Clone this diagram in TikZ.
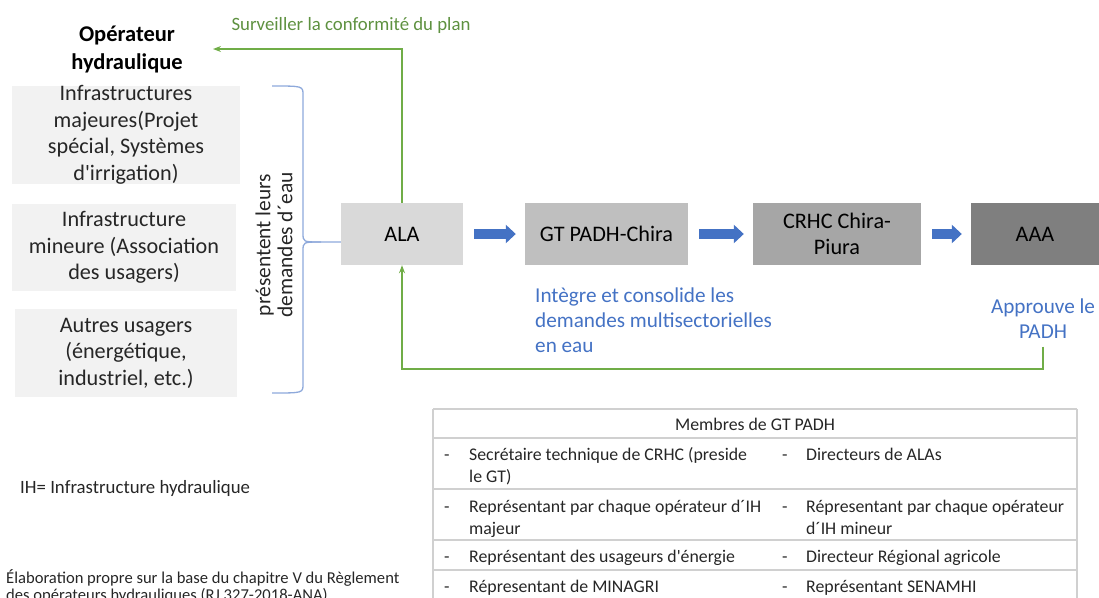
\documentclass[tikz,border=0pt]{standalone}
\usepackage{fontspec}
\setmainfont{Carlito}
\usetikzlibrary{arrows.meta, positioning, calc}
\definecolor{cpale}{HTML}{F2F2F2}
\definecolor{cala}{HTML}{D9D9D9}
\definecolor{cgt}{HTML}{BFBFBF}
\definecolor{ccrhc}{HTML}{A6A6A6}
\definecolor{caaa}{HTML}{7F7F7F}
\definecolor{cblue}{HTML}{4472C4}
\definecolor{cbrace}{HTML}{8EA9DB}
\definecolor{cgreen}{HTML}{5E9140}
\definecolor{cgline}{HTML}{70AD47}
\definecolor{crule}{HTML}{D0D0D0}
\definecolor{cink}{HTML}{262626}
\tikzset{
  every picture/.style={x=1pt, y=-1pt},
  txt/.style={font=\fontsize{22.2}{26.5}\selectfont, align=center, text=cink},
  opbox/.style={fill=cpale, inner sep=0pt, txt},
  stage/.style={fill=#1, minimum height=62pt, inner sep=0pt, txt, text=black},
  flow/.style={-{Triangle[length=10pt, width=18pt]}, draw=cblue, line width=10pt, shorten <=11pt, shorten >=9pt},
  watch/.style={-{Stealth[length=8pt, width=6pt]}, draw=cgline, line width=1.3pt},
  bracket/.style={draw=cbrace, line width=1.3pt},
  role/.style={font=\fontsize{21.2}{25}\selectfont, text=cblue},
  cell/.style={font=\fontsize{17.8}{22}\selectfont, anchor=base west, align=left, inner sep=0pt, text=cink},
  tabrule/.style={draw=crule, line width=1.3pt},
  foot/.style={font=\fontsize{16.6}{17}\selectfont, anchor=base west, align=left, inner sep=0pt, text=cink},
}
\begin{document}
\begin{tikzpicture}
  \useasboundingbox (0,0) rectangle (1099,597);
  % operators on the left
  \node[txt, font=\fontsize{22.5}{28}\selectfont\bfseries, text=black] (op) at (127,49) {Opérateur\\hydraulique};
  \node[opbox, minimum width=228pt, minimum height=98pt] (maj) at (126,135) {Infrastructures\\majeures(Projet\\spécial, Systèmes\\d\textquotesingle irrigation)};
  \node[opbox, minimum width=224pt, minimum height=87pt] (mineur) at (124,247.5) {Infrastructure\\mineure (Association\\des usagers)};
  \node[opbox, minimum width=222pt, minimum height=88pt] (autres) at (126,353) {Autres usagers\\(énergétique,\\industriel, etc.)};
  % the approval chain
  \foreach \n/\x/\w/\c/\t in {ala/402/122pt/cala/ALA, gt/606.5/163pt/cgt/GT PADH-Chira,
      crhc/837/168pt/ccrhc/{CRHC Chira-\\Piura}, aaa/1035/128pt/caaa/AAA}
    \node[stage=\c, minimum width=\w] (\n) at (\x,234) {\t};
  \foreach \a/\b in {ala/gt, gt/crhc, crhc/aaa} \draw[flow] (\a) -- (\b);
  \draw[bracket] (272,86) .. controls (303,86) .. (303,95) -- (303,233) .. controls (303,242) .. (321,242) -- (ala.west |- 0,242);
  \draw[bracket] (321,242) .. controls (303,242) .. (303,251) -- (303,384) .. controls (303,393) .. (272,393);
  \node[txt, font=\fontsize{21.4}{22}\selectfont, rotate=90] (dem) at (274,245) {présentent leurs\\demandes d´eau};
  % feedback lines
  \node[font=\fontsize{18.8}{20}\selectfont, text=cgreen] (surv) at (351,25) {Surveiller la conformité du plan};
  \draw[watch] (ala.north) |- (op.east -| 213,0);
  \node[role, align=left, anchor=west, inner sep=0pt] (integ) at (535,320) {Intègre et consolide les\\demandes multisectorielles\\en eau};
  \node[role, align=center, inner sep=8pt] (apr) at (1043,318.5) {Approuve le\\PADH};
  \draw[watch] (apr.south) |- (ala.south |- 0,369) -- (ala.south);
  % members table
  \foreach \y in {409,438,489,540,570} \draw[tabrule] (433,\y) -- (1077,\y);
  \draw[tabrule] (433,409) -- (433,600);
  \draw[tabrule] (1077,409) -- (1077,600);
  \node[cell, anchor=base] (thead) at (755,430) {Membres de GT PADH};
  \foreach \i/\y/\ya/\yb/\a/\b in {
      1/460/482/460/{Secrétaire technique de CRHC (preside\\le GT)}/{Directeurs de ALAs},
      2/512/534/534/{Représentant par chaque opérateur d´IH\\majeur}/{Répresentant par chaque opérateur\\d´IH mineur},
      3/562/562/562/{Représentant des usageurs d\textquotesingle énergie}/{Directeur Régional agricole},
      4/592/592/592/{Répresentant de MINAGRI}/{Représentant SENAMHI}} {
    \node[cell] (dl\i) at (444,\y) {-};
    \node[cell] (l\i) at (469,\ya) {\a};
    \node[cell] (dr\i) at (782,\y) {-};
    \node[cell] (r\i) at (806,\yb) {\b};
  }
  % notes
  \node[cell, font=\fontsize{18.8}{22}\selectfont] (ih) at (20,493) {IH= Infrastructure hydraulique};
  \node[foot] (src) at (6,600) {Élaboration propre sur la base du chapitre V du Règlement\\des opérateurs hydrauliques (RJ 327-2018-ANA)};
\end{tikzpicture}
\end{document}
